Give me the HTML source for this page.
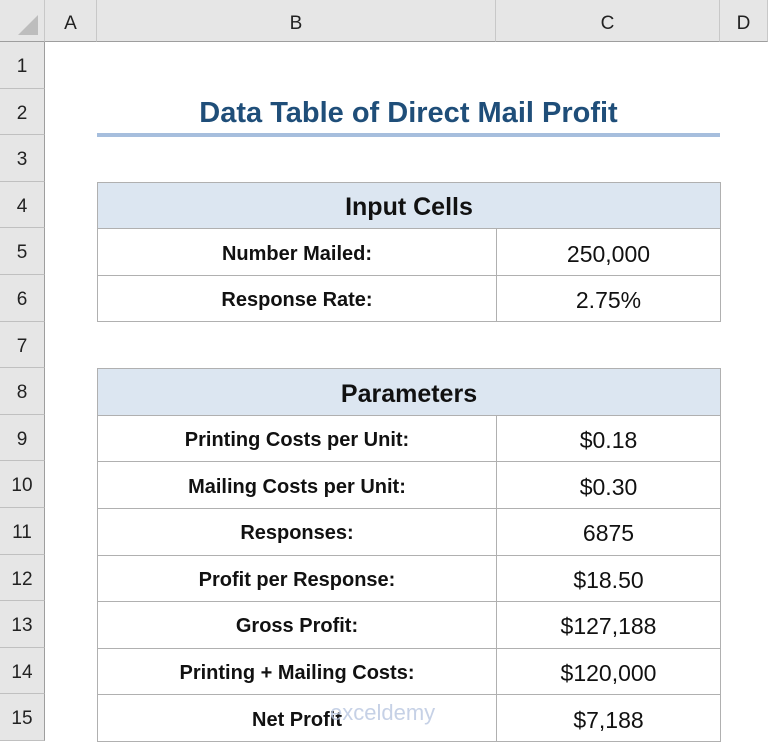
<!DOCTYPE html>
<html><head><meta charset="utf-8"><style>
body{margin:0;width:768px;height:746px;overflow:hidden;background:#fff;font-family:"Liberation Sans",sans-serif;position:relative}
.a{position:absolute;box-sizing:border-box}
.ch{top:0;height:42px;background:#e6e6e6;border-right:1px solid #c8c8c8;border-bottom:1px solid #9e9e9e;text-align:center;line-height:48px;font-size:19px;color:#222}
.rh{left:0;width:45px;background:#e6e6e6;border-bottom:1px solid #c0c0c0;border-right:1px solid #9e9e9e;text-align:center;font-size:19px;color:#222;padding-top:14px}
.c{border:1px solid #b0b0b0;display:flex;align-items:center;justify-content:center;color:#111}
.lb{font-weight:bold;font-size:20px;padding-top:4px}
.v{font-size:23px;padding-top:4px}
.hd{background:#dce6f1;font-weight:bold;font-size:25px;padding-top:4px}
</style></head><body>
<div class="a ch" style="left:0;width:45px"><div style="position:absolute;right:6px;bottom:6px;width:0;height:0;border-left:20px solid transparent;border-bottom:20px solid #bdbdbd"></div></div>
<div class="a ch" style="left:45px;width:52px">A</div>
<div class="a ch" style="left:97px;width:399px">B</div>
<div class="a ch" style="left:496px;width:224px">C</div>
<div class="a ch" style="left:720px;width:48px">D</div>
<div id="rows"></div>
<div class="a" style="left:97px;top:92px;width:623px;height:42px;text-align:center;font-weight:bold;font-size:29px;color:#1f4e79;line-height:42px">Data Table of Direct Mail Profit</div>
<div class="a" style="left:97px;top:133px;width:623px;height:4px;background:#a6bedd"></div>

<div class="a c hd" style="left:97px;top:182px;width:624px;height:47px">Input Cells</div>
<div class="a c lb" style="left:97px;top:228px;width:400px;height:48px">Number Mailed:</div>
<div class="a c v" style="left:496px;top:228px;width:225px;height:48px">250,000</div>
<div class="a c lb" style="left:97px;top:275px;width:400px;height:47px">Response Rate:</div>
<div class="a c v" style="left:496px;top:275px;width:225px;height:47px">2.75%</div>

<div class="a c hd" style="left:97px;top:368px;width:624px;height:48px">Parameters</div>
<div id="params"></div>
<div class="a" style="left:330px;top:700px;color:#b8c6e0;font-size:22px;opacity:.8">exceldemy</div>
<script>
var H=46.6;
var rowsEl=document.getElementById('rows');
for(var i=1;i<=15;i++){
 var d=document.createElement('div');
 d.className='a rh';
 d.style.top=(42+(i-1)*H)+'px';d.style.height=H+'px';
 d.textContent=i;
 
 
 rowsEl.appendChild(d);
}
var labels=['Printing Costs per Unit:','Mailing Costs per Unit:','Responses:','Profit per Response:','Gross Profit:','Printing + Mailing Costs:','Net Profit'];
var values=['$0.18','$0.30','6875','$18.50','$127,188','$120,000','$7,188'];
var p=document.getElementById('params');
for(var j=0;j<labels.length;j++){
 var yTop=42+(8+j)*H;
 var l=document.createElement('div');
 l.className='a c lb';
 l.style.cssText='left:97px;top:'+yTop+'px;width:400px;height:'+(H+1)+'px';
 l.textContent=labels[j];
 
 
 p.appendChild(l);
 var v=document.createElement('div');
 v.className='a c v';
 v.style.cssText='left:496px;top:'+yTop+'px;width:225px;height:'+(H+1)+'px';
 v.textContent=values[j];
 
 
 p.appendChild(v);
}
</script>
</body></html>
